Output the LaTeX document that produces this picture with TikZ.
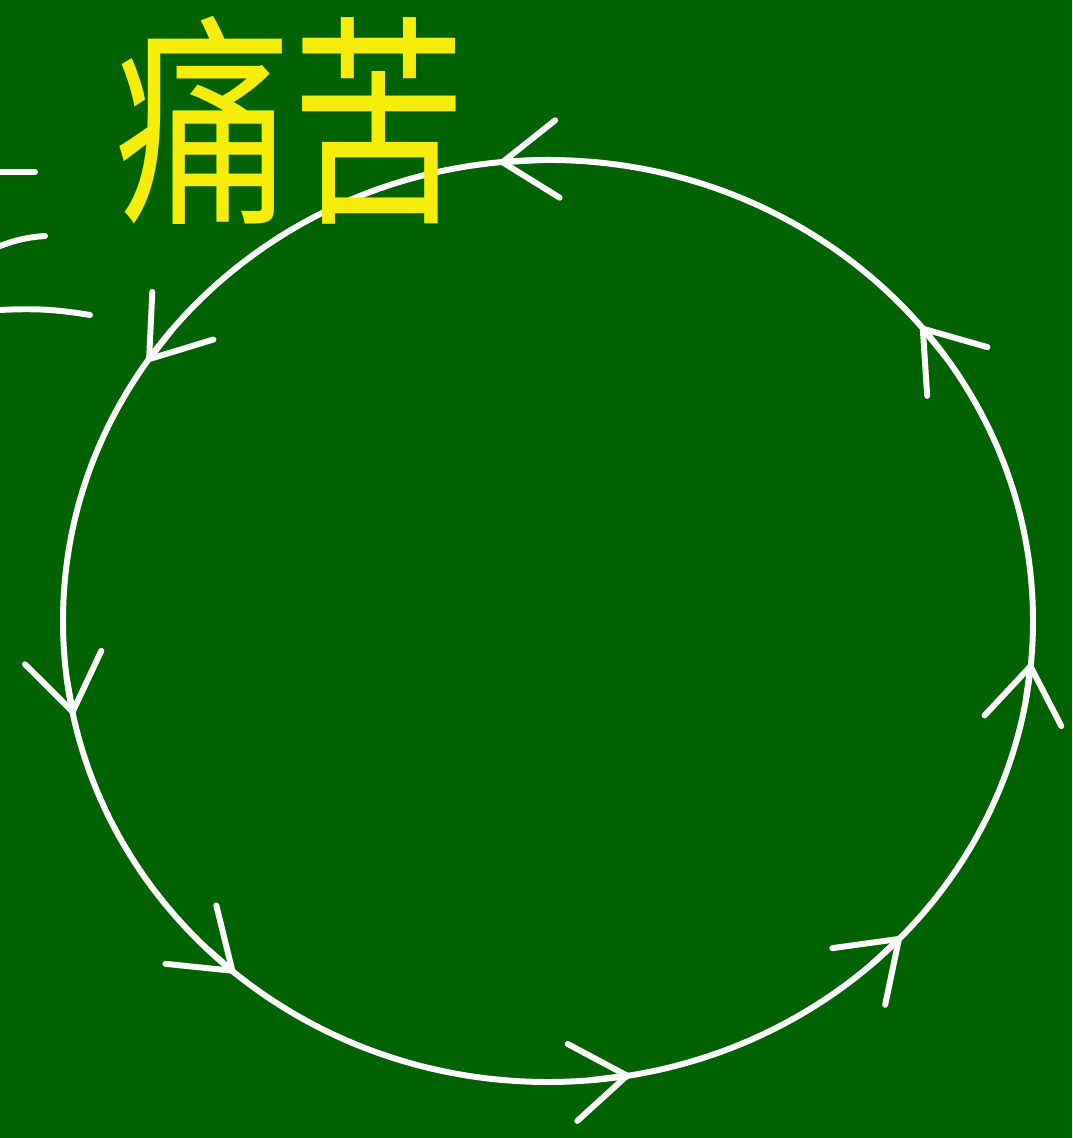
\documentclass[tikz,border=0pt]{standalone}
\usepackage{fontspec}
\newfontfamily\cjk{Noto Sans CJK SC}
\usepackage{tikz}
\usetikzlibrary{arrows.meta}
\definecolor{board}{RGB}{0,98,0}
\definecolor{chalkyellow}{RGB}{246,238,10}

\begin{document}
\begin{tikzpicture}[
    chalk/.style={draw=white, line width=3.4pt, line cap=round, line join=round},
    flow/.style={chalk, -{Straight Barb[length=1.1cm, width=1.55cm, line cap=round]}},
    title/.style={text=chalkyellow, font=\cjk\fontsize{128}{128}\selectfont, inner sep=0pt},
]

%% Board
\fill[board] (0,0) rectangle (21.44,22.76);
\useasboundingbox (0,0) rectangle (21.44,22.76);

%% Cycle
\coordinate (c) at (10.96,10.34);
\draw[chalk] (c) ellipse [x radius=9.7, y radius=9.22];

%% Arrows along the cycle
\foreach \a in {40,96,146,192,230,280,317,355}
    \draw[flow] ([shift={(\a-5:9.7 and 9.22)}]c) -- ([shift={(\a:9.7 and 9.22)}]c);

%% Label
\node[title] (pain) at (5.82,20.36) {\scalebox{0.78}[1]{痛苦}};

%% Cut-off strokes at the left edge
\coordinate (s1) at (0,19.32);
\coordinate (s2) at (0,17.84);
\coordinate (s3) at (0,16.56);
\draw[chalk] (s1) -- ++(0.7,0);
\draw[chalk] (s2) to[bend left=8] ++(0.9,0.2);
\draw[chalk] (s3) to[bend left=6] ++(1.8,-0.1);

\end{tikzpicture}
\end{document}
